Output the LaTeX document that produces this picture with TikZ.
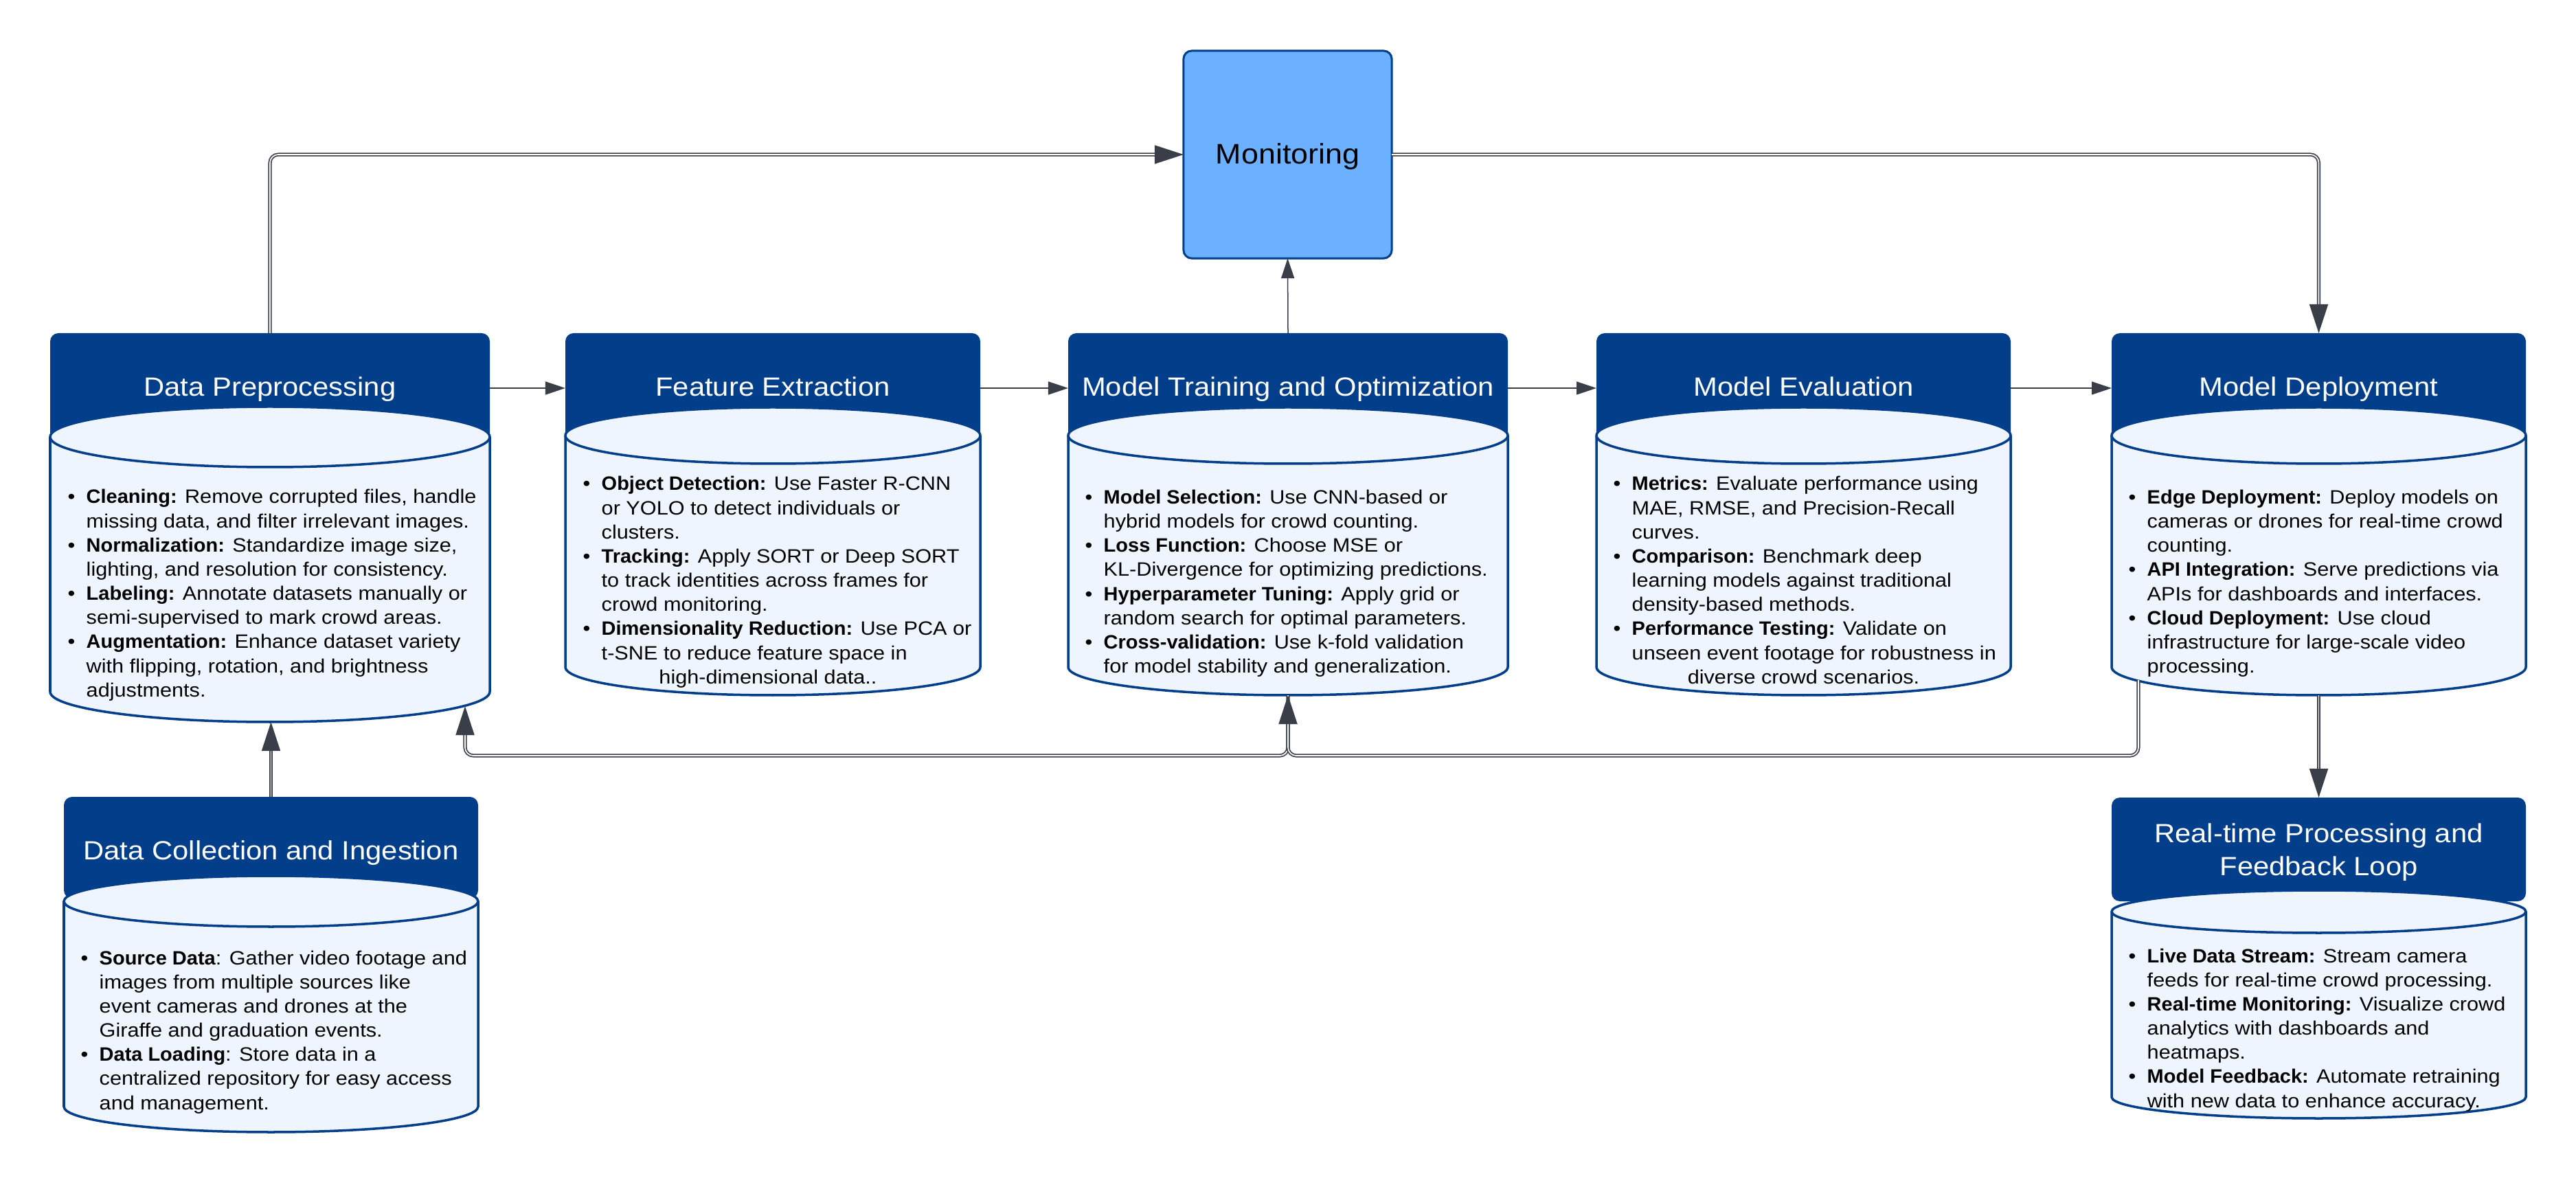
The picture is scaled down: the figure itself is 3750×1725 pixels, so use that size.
\documentclass[tikz,border=0pt]{standalone}
\usepackage{fontspec}
\setmainfont{Liberation Sans}[FakeStretch=1.09, BoldFeatures={FakeStretch=1.03}]
\usetikzlibrary{arrows.meta,calc}
\definecolor{hdr}{RGB}{2,62,138}
\definecolor{bodyfill}{RGB}{238,245,255}
\definecolor{monfill}{RGB}{108,177,255}
\definecolor{lc}{RGB}{58,62,72}

\newcommand\mkbox[8]{%
  \pgfmathsetmacro\wv{(#3-#2)*0.01}%
  \pgfmathsetmacro\hhv{(#5-#4)*0.01}%
  \pgfmathsetmacro\hbv{(#8+#7-#4)*0.01}%
  \pgfmathsetlengthmacro\rxl{(#3-#2)/2*0.01cm}%
  \pgfmathsetlengthmacro\ryl{#7*0.01cm}%
  \node[hdrbox, minimum width=\wv cm, minimum height=\hhv cm, anchor=north west] (#1h) at (#2,#4) {};
  \node[inner sep=0pt, outer sep=0pt, minimum width=\wv cm, minimum height=\hbv cm, anchor=north west] (#1) at (#2,#4) {};
  \filldraw[cylst] (#2,#6) -- (#2,#8) arc[start angle=180, end angle=360, x radius=\rxl, y radius=\ryl] -- (#3,#6) arc[start angle=0, end angle=180, x radius=\rxl, y radius=\ryl] -- cycle;
  \draw[cylst, fill=none] (#2,#6) arc[start angle=180, end angle=360, x radius=\rxl, y radius=\ryl];
}
\newcommand\itm[1]{\textbullet & #1\\}
\newcommand\cnt[1]{ & #1\\}
\newenvironment{blist}{\begin{tabular}[t]{@{}p{0.27cm}@{}l@{}}}{\end{tabular}}

\begin{document}
\begin{tikzpicture}[x=0.01cm,y=-0.01cm,
  hdrbox/.style={fill=hdr, draw=none, rounded corners=0.12cm, inner sep=0pt, outer sep=0pt},
  cylst/.style={fill=bodyfill, draw=hdr, line width=0.035cm},
  ttl/.style={text=white, font=\fontsize{10.9}{13.9}\selectfont, inner sep=0pt, anchor=base},
  btxt/.style={font=\fontsize{8}{10}\selectfont, inner sep=0pt, text=black},
  sline/.style={draw=lc, line width=0.015cm, -{Triangle[length=0.29cm,width=0.19cm]}},
  dline/.style={draw=lc, line width=0.017cm, double=white, double distance=0.017cm, rounded corners=0.12cm, -{Triangle[length=0.42cm,width=0.27cm]}},
  monbox/.style={fill=monfill, draw=hdr, line width=0.03cm, rounded corners=0.12cm, inner sep=0pt, outer sep=0pt},
  montxt/.style={font=\fontsize{11.7}{14}\selectfont, inner sep=0pt, anchor=base, text=black},
]
\useasboundingbox (0,0) rectangle (3750,1725);
\fill[white] (0,0) rectangle (3750,1725);

% boxes
\mkbox{dp}{73}{713}{485}{645}{636}{44}{1007}
\mkbox{fe}{823}{1427}{485}{645}{634}{41}{971}
\mkbox{mt}{1555}{2195}{485}{645}{634}{41}{971}
\mkbox{me}{2324}{2927}{485}{645}{634}{41}{971}
\mkbox{md}{3074}{3677}{485}{645}{634}{41}{971}
\mkbox{dc}{93}{696}{1160}{1308}{1312}{37}{1611}
\mkbox{rt}{3074}{3677}{1161}{1312}{1327}{31}{1597}

\node[monbox, minimum width=3.03cm, minimum height=3.02cm] (mon) at (1874.5,225) {};
\node[montxt] (monl) at (1874.5,239) {Monitoring};

% titles
\node[ttl] (dpl) at (393,577) {Data Preprocessing};
\node[ttl] (fel) at (1125,577) {Feature Extraction};
\node[ttl] (mtl) at (1875,577) {Model Training and Optimization};
\node[ttl] (mel) at (2625.5,577) {Model Evaluation};
\node[ttl] (mdl) at (3375.5,577) {Model Deployment};
\node[ttl] (dcl) at (394.5,1251) {Data Collection and Ingestion};
\node[ttl] (rtl) at (3375.5,1226) {\begin{tabular}[t]{@{}c@{}}Real-time Processing and\\Feedback Loop\end{tabular}};

% body texts
\node[btxt, anchor=base west] (dpt) at (98,733) {\begin{blist}
\itm{\textbf{Cleaning:} Remove corrupted files, handle}
\cnt{missing data, and filter irrelevant images.}
\itm{\textbf{Normalization:} Standardize image size,}
\cnt{lighting, and resolution for consistency.}
\itm{\textbf{Labeling:} Annotate datasets manually or}
\cnt{semi-supervised to mark crowd areas.}
\itm{\textbf{Augmentation:} Enhance dataset variety}
\cnt{with flipping, rotation, and brightness}
\cnt{adjustments.}
\end{blist}};

\node[btxt, anchor=base west] (fet) at (848,714) {\begin{blist}
\itm{\textbf{Object Detection:} Use Faster R-CNN}
\cnt{or YOLO to detect individuals or}
\cnt{clusters.}
\itm{\textbf{Tracking:} Apply SORT or Deep SORT}
\cnt{to track identities across frames for}
\cnt{crowd monitoring.}
\itm{\textbf{Dimensionality Reduction:} Use PCA or}
\cnt{t-SNE to reduce feature space in}
\end{blist}};
\node[btxt, anchor=base] (fet2) at (1118,995) {high-dimensional data..};

\node[btxt, anchor=base west] (mtt) at (1579,733.5) {\begin{blist}
\itm{\textbf{Model Selection:} Use CNN-based or}
\cnt{hybrid models for crowd counting.}
\itm{\textbf{Loss Function:} Choose MSE or}
\cnt{KL-Divergence for optimizing predictions.}
\itm{\textbf{Hyperparameter Tuning:} Apply grid or}
\cnt{random search for optimal parameters.}
\itm{\textbf{Cross-validation:} Use k-fold validation}
\cnt{for model stability and generalization.}
\end{blist}};

\node[btxt, anchor=base west] (met) at (2348,714) {\begin{blist}
\itm{\textbf{Metrics:} Evaluate performance using}
\cnt{MAE, RMSE, and Precision-Recall}
\cnt{curves.}
\itm{\textbf{Comparison:} Benchmark deep}
\cnt{learning models against traditional}
\cnt{density-based methods.}
\itm{\textbf{Performance Testing:} Validate on}
\cnt{unseen event footage for robustness in}
\end{blist}};
\node[btxt, anchor=base] (met2) at (2625.5,995) {diverse crowd scenarios.};

\node[btxt, anchor=base west] (mdt) at (3098,733.5) {\begin{blist}
\itm{\textbf{Edge Deployment:} Deploy models on}
\cnt{cameras or drones for real-time crowd}
\cnt{counting.}
\itm{\textbf{API Integration:} Serve predictions via}
\cnt{APIs for dashboards and interfaces.}
\itm{\textbf{Cloud Deployment:} Use cloud}
\cnt{infrastructure for large-scale video}
\cnt{processing.}
\end{blist}};

\node[btxt, anchor=base west] (dct) at (117,1404) {\begin{blist}
\itm{\textbf{Source Data}: Gather video footage and}
\cnt{images from multiple sources like}
\cnt{event cameras and drones at the}
\cnt{Giraffe and graduation events.}
\itm{\textbf{Data Loading}: Store data in a}
\cnt{centralized repository for easy access}
\cnt{and management.}
\end{blist}};

\node[btxt, anchor=base west] (rtt) at (3098,1401) {\begin{blist}
\itm{\textbf{Live Data Stream:} Stream camera}
\cnt{feeds for real-time crowd processing.}
\itm{\textbf{Real-time Monitoring:} Visualize crowd}
\cnt{analytics with dashboards and}
\cnt{heatmaps.}
\itm{\textbf{Model Feedback:} Automate retraining}
\cnt{with new data to enhance accuracy.}
\end{blist}};

% connectors
\coordinate (fby) at (0,1100);
\coordinate (mdfb) at (3113,990);
\coordinate (dpfb) at (677,1028);

\draw[sline] (dph.east) -- (feh.west);
\draw[sline] (feh.east) -- (mth.west);
\draw[sline] (mth.east) -- (meh.west);
\draw[sline] (meh.east) -- (mdh.west);
\draw[sline] (mth.north) -- (mon.south);
\draw[dline] (dph.north) |- (mon.west);
\draw[dline] (mon.east) -| (mdh.north);
\draw[dline] (dch.north) -- (dch.north |- dp.south);
\draw[dline] (md.south) -- (rth.north);
\draw[dline] (mt.south) -- (mt.south |- fby) -| (dpfb);
\draw[dline] (mdfb) -- (mdfb |- fby) -| (mt.south);
\end{tikzpicture}
\end{document}
